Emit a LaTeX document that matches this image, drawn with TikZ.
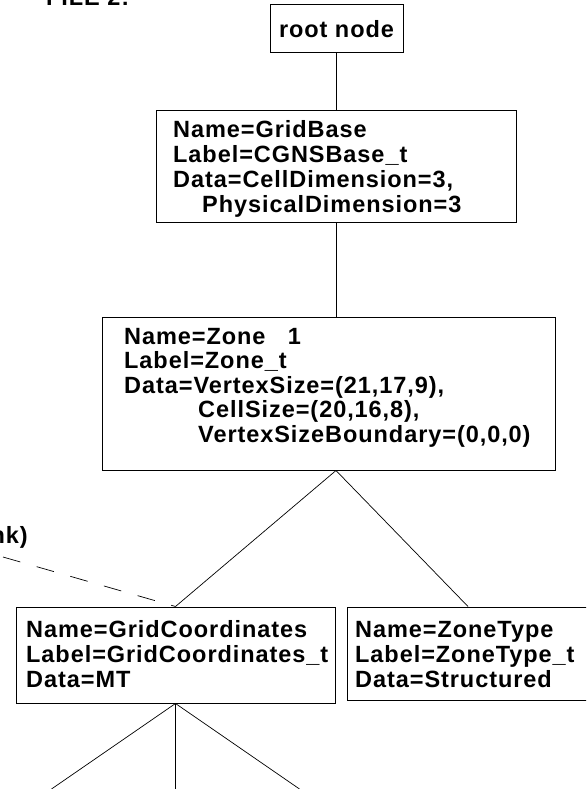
\documentclass[tikz,border=0pt]{standalone}
\usepackage{fontspec}
\setmainfont{Liberation Sans}[LetterSpace=4]
\begin{document}
\begin{tikzpicture}[x=1pt,y=-1pt,
  every node/.style={font=\bfseries\fontsize{23.5}{25}\selectfont},
  box/.style={draw, line width=1pt, rectangle, inner sep=0pt},
  conn/.style={line width=0.7pt},
  txt/.style={anchor=base west, inner sep=0pt}]
\useasboundingbox (0,0) rectangle (586,789);
\clip (0,0) rectangle (586,789);

% boxes
\node[box, minimum width=133pt, minimum height=48pt] (root) at (336.5,29) {root node};
\node[box, minimum width=360pt, minimum height=111pt] (gb) at (336,166.5) {};
\node[box, minimum width=453pt, minimum height=153pt] (zone) at (328.5,393.5) {};
\node[box, minimum width=319pt, minimum height=96pt] (gc) at (175.5,655) {};
\node[box, minimum width=242pt, minimum height=93pt] (zt) at (468,653.5) {};

% texts
\node[txt] (tfile) at (46,6) {FILE 2:};
\node[anchor=base east, inner sep=0pt] (tlink) at (28,543) {nk)};

\node[txt] (gb1) at (173,137) {Name=GridBase};
\node[txt] (gb2) at (173,162) {Label=CGNSBase\_t};
\node[txt] (gb3) at (173,187) {Data=CellDimension=3,};
\node[txt] (gb4) at (202,212) {PhysicalDimension=3};

\node[txt] (z1) at (124,344) {Name=Zone\ \ \ 1};
\node[txt] (z2) at (124,368.5) {Label=Zone\_t};
\node[txt] (z3) at (124,393) {Data=VertexSize=(21,17,9),};
\node[txt] (z4) at (198,417.5) {CellSize=(20,16,8),};
\node[txt] (z5) at (198,442) {VertexSizeBoundary=(0,0,0)};

\node[txt] (gc1) at (26,637) {Name=GridCoordinates};
\node[txt] (gc2) at (26,662) {Label=GridCoordinates\_t};
\node[txt] (gc3) at (26,687) {Data=MT};

\node[txt] (zt1) at (355,637) {Name=ZoneType};
\node[txt] (zt2) at (355,662) {Label=ZoneType\_t};
\node[txt] (zt3) at (355,687) {Data=Structured};

% connectors
\draw[conn] (root.south) -- (root.south |- gb.north);
\draw[conn] (gb.south) -- (gb.south |- zone.north);
\coordinate (zapex) at (zone.south -| gb.south);
\draw[conn] (zapex) -- (gc.north);
\draw[conn] (zapex) -- (zt.north);
\coordinate (linkend) at (3,557);
\draw[conn, dash pattern=on 18pt off 17pt] (linkend) -- (gc.north);
\coordinate (b1) at (51.5,789);
\coordinate (b2) at (175.5,789);
\coordinate (b3) at (299.5,789);
\draw[conn] (gc.south) -- (b1);
\draw[conn] (gc.south) -- (b2);
\draw[conn] (gc.south) -- (b3);
\end{tikzpicture}
\end{document}
